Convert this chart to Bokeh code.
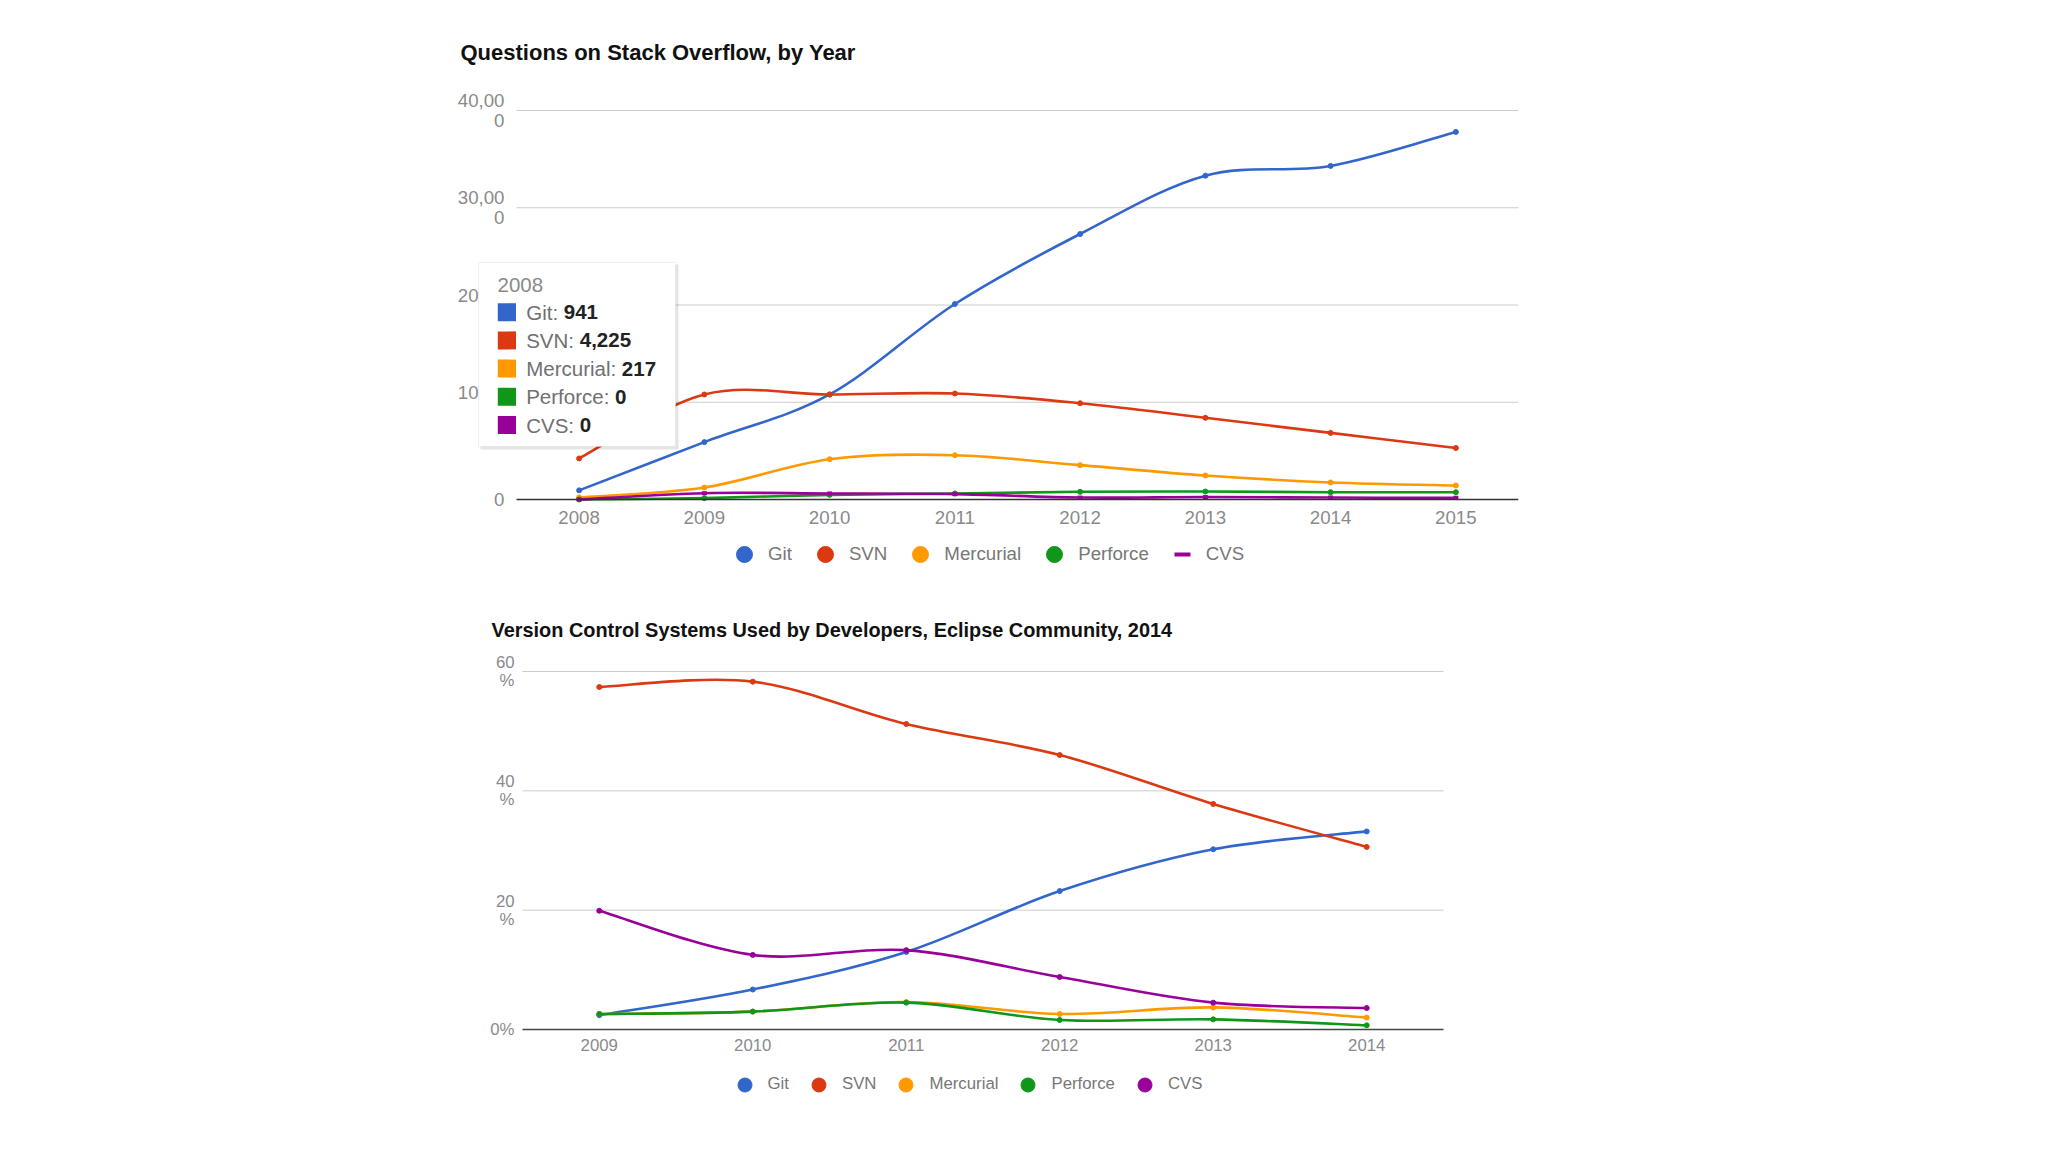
from bokeh.plotting import figure
from bokeh.models import (ColumnDataSource, FixedTicker, Legend, LegendItem,
                          BoxAnnotation, Label)
from bokeh.layouts import column
from bokeh.embed import file_html
from bokeh.resources import INLINE

FONT = "Liberation Sans"

# ---------------- data ----------------
series_names = ["Git", "SVN", "Mercurial", "Perforce", "CVS"]
series_colors = ["#3366cc", "#dc3912", "#ff9900", "#109618", "#990099"]

so_title = "Questions on Stack Overflow, by Year"
so_years = [2008, 2009, 2010, 2011, 2012, 2013, 2014, 2015]
so_git = [941, 5900, 10800, 20100, 27300, 33300, 34300, 37800]
so_svn = [4225, 10800, 10800, 10900, 9900, 8400, 6850, 5300]
so_hg = [217, 1230, 4140, 4550, 3530, 2470, 1750, 1440]
so_p4 = [0, 140, 480, 620, 790, 820, 750, 750]
so_cvs = [0, 650, 620, 550, 200, 250, 200, 170]
so_yticks = [0, 10000, 20000, 30000, 40000]
so_ytick_labels = ["0", "10,00\n0", "20,00\n0", "30,00\n0", "40,00\n0"]

ec_title = "Version Control Systems Used by Developers, Eclipse Community, 2014"
ec_years = [2009, 2010, 2011, 2012, 2013, 2014]
ec_git = [2.4, 6.7, 13.0, 23.2, 30.2, 33.2]
ec_svn = [57.4, 58.3, 51.2, 46.0, 37.8, 30.6]
ec_hg = [2.6, 3.0, 4.6, 2.6, 3.7, 2.0]
ec_p4 = [2.6, 3.0, 4.5, 1.6, 1.7, 0.7]
ec_cvs = [19.9, 12.5, 13.3, 8.8, 4.5, 3.6]
ec_yticks = [0, 20, 40, 60]
ec_ytick_labels = ["0%", "20\n%", "40\n%", "60\n%"]


def smooth_segments(xs, ys, t=1.0 / 6.0):
    """Bezier control points (Catmull-Rom style) through the data points."""
    n = len(xs)
    d = dict(x0=[], y0=[], x1=[], y1=[], cx0=[], cy0=[], cx1=[], cy1=[])
    for i in range(n - 1):
        ip, inn = max(i - 1, 0), min(i + 2, n - 1)
        d["x0"].append(xs[i]); d["y0"].append(ys[i])
        d["x1"].append(xs[i + 1]); d["y1"].append(ys[i + 1])
        d["cx0"].append(xs[i] + (xs[i + 1] - xs[ip]) * t)
        d["cy0"].append(ys[i] + (ys[i + 1] - ys[ip]) * t)
        d["cx1"].append(xs[i + 1] - (xs[inn] - xs[i]) * t)
        d["cy1"].append(ys[i + 1] - (ys[inn] - ys[i]) * t)
    return d


def style_chart(p, xticks, yticks, ylabels, fsize, xstandoff, ystandoff,
                base_color):
    x_lo, x_hi = xticks[0] - 0.5, xticks[-1] + 0.5
    # axes sit at the data edges inside the (extended) frame
    p.xaxis.fixed_location = yticks[0]
    p.xaxis.bounds = (x_lo, x_hi)
    p.yaxis.fixed_location = x_lo
    p.xaxis.ticker = FixedTicker(ticks=xticks)
    p.xaxis.major_label_overrides = {v: str(v) for v in xticks}
    p.yaxis.ticker = FixedTicker(ticks=yticks)
    p.yaxis.major_label_overrides = dict(zip(yticks, ylabels))
    for ax in (p.xaxis, p.yaxis):
        ax.major_tick_line_color = None
        ax.minor_tick_line_color = None
        ax.major_label_text_font = FONT
        ax.major_label_text_font_size = fsize
        ax.major_label_text_color = "#8a8a8a"
    p.yaxis.major_label_text_line_height = 0.95
    p.xaxis.major_label_standoff = xstandoff
    p.xaxis.axis_line_color = base_color
    p.xaxis.axis_line_width = 1.5
    p.yaxis.axis_line_color = None
    p.yaxis.major_label_standoff = ystandoff
    p.xgrid.visible = False
    p.ygrid.visible = False
    p.outline_line_color = None
    p.title.text_font = FONT
    p.title.text_font_style = "bold"
    p.title.text_color = "#111111"
    p.title.align = "left"
    # horizontal grid lines over the category span only
    n = len(yticks) - 1
    p.segment(x0=[x_lo] * n, y0=yticks[1:], x1=[x_hi] * n, y1=yticks[1:],
              line_color="#cccccc", line_width=1)


def draw_series(p, xs, ys, color, marker="circle"):
    src = ColumnDataSource(smooth_segments(xs, ys))
    p.bezier(x0="x0", y0="y0", x1="x1", y1="y1", cx0="cx0", cy0="cy0",
             cx1="cx1", cy1="cy1", source=src, line_color=color,
             line_width=2.6, line_cap="round", line_join="round")
    if marker == "dash":
        return p.scatter(xs, ys, marker="dash", size=5, line_color=color,
                         line_width=4)
    return p.scatter(xs, ys, marker="circle", size=5, fill_color=color,
                     line_color=color, line_width=1)


# both figures share the same frame borders (column aligns them)
FIG_W, BORDER_L, BORDER_R = 1560, 440, 42

# ---------------- chart 1 ----------------
PXY1 = 125.25            # px per year
PXV1 = 389.0 / 40000     # px per question
p1 = figure(width=FIG_W, height=606,
            x_range=(so_years[0] - 0.5 - 76 / PXY1, so_years[-1] + 0.5),
            y_range=(so_yticks[0] - 79 / PXV1, so_yticks[-1] + 40 / PXV1),
            output_backend="svg", toolbar_location=None,
            min_border_left=BORDER_L, min_border_right=BORDER_R,
            min_border_top=70, min_border_bottom=28)
p1.title.text = so_title
p1.title.text_font_size = "22px"
p1.title.offset = 20
p1.title.standoff = 12
style_chart(p1, so_years, so_yticks, so_ytick_labels, "18.7px", 5, 6, "#333333")

so_vals = [so_git, so_svn, so_hg, so_p4, so_cvs]
items1 = []
for name, col, vals in zip(series_names, series_colors, so_vals):
    r = draw_series(p1, so_years, vals, col, "dash" if name == "CVS" else "circle")
    items1.append(LegendItem(label=name, renderers=[r]))

leg1 = Legend(items=items1, orientation="horizontal", location=(284, 4),
              glyph_width=40, glyph_height=40, label_standoff=4, spacing=13,
              padding=0, margin=0, background_fill_alpha=0, border_line_color=None,
              label_text_font=FONT, label_text_font_size="18.7px",
              label_text_color="#777777", label_height=40)
p1.add_layout(leg1)

# tooltip-like box for 2008
TIP_FS = 20.5
char_w = {" ": 278, ":": 278, "G": 778, "i": 222, "t": 278, "S": 667, "V": 667,
          "N": 722, "M": 833, "e": 556, "r": 333, "c": 500, "u": 556, "a": 556,
          "l": 222, "P": 667, "f": 278, "o": 556, "C": 722}


def text_w(s, fs):
    return sum(char_w.get(ch, 556) for ch in s) * fs / 1000.0


def sbox(l, r, t, b, **kw):
    return BoxAnnotation(left=l, right=r, top=t, bottom=b,
                         left_units="screen", right_units="screen",
                         top_units="screen", bottom_units="screen",
                         level="overlay", **kw)


p1.add_layout(sbox(40, 238, 314, 129, fill_color="black",
                   fill_alpha=0.10, line_color=None))
p1.add_layout(sbox(38, 235, 316, 132, fill_color="white",
                   fill_alpha=1.0, line_color="#cccccc", line_width=1))
p1.add_layout(Label(x=57, y=294, x_units="screen", y_units="screen",
                    text=str(so_years[0]), text_font=FONT,
                    text_font_size=f"{TIP_FS}px", text_color="#8a8a8a",
                    text_baseline="middle", level="overlay"))
for k, (name, col, vals) in enumerate(zip(series_names, series_colors, so_vals)):
    yy = 266.3 - 28.2 * k
    p1.add_layout(sbox(57.3, 75.5, yy + 9, yy - 9, fill_color=col,
                       fill_alpha=1.0, line_color=None))
    lab = f"{name}: "
    p1.add_layout(Label(x=85.7, y=yy, x_units="screen", y_units="screen",
                        text=lab.strip(), text_font=FONT,
                        text_font_size=f"{TIP_FS}px", text_color="#707070",
                        text_baseline="middle", level="overlay"))
    p1.add_layout(Label(x=85.7 + text_w(lab, TIP_FS), y=yy, x_units="screen",
                        y_units="screen", text=f"{vals[0]:,}", text_font=FONT,
                        text_font_size=f"{TIP_FS}px", text_font_style="bold",
                        text_color="#222222", text_baseline="middle",
                        level="overlay"))

# ---------------- chart 2 ----------------
PXY2 = 153.4
PXV2 = 358.0 / 60
p2 = figure(width=FIG_W, height=530,
            x_range=(ec_years[0] - 0.5 - 82 / PXY2, ec_years[-1] + 0.5 + 75 / PXY2),
            y_range=(ec_yticks[0] - 77 / PXV2, ec_yticks[-1] + 25 / PXV2),
            output_backend="svg", toolbar_location=None,
            min_border_left=BORDER_L, min_border_right=BORDER_R,
            min_border_top=40, min_border_bottom=30)
p2.title.text = ec_title
p2.title.text_font_size = "19.9px"
p2.title.offset = 51
p2.title.standoff = 12
style_chart(p2, ec_years, ec_yticks, ec_ytick_labels, "16.8px", 3, 2, "#444444")

ec_vals = [ec_git, ec_svn, ec_hg, ec_p4, ec_cvs]
items2 = []
for name, col, vals in zip(series_names, series_colors, ec_vals):
    r = draw_series(p2, ec_years, vals, col, "circle")
    items2.append(LegendItem(label=name, renderers=[r]))

leg2 = Legend(items=items2, orientation="horizontal", location=(286.5, 4.5),
              glyph_width=35, glyph_height=35, label_standoff=6, spacing=12,
              padding=0, margin=0, background_fill_alpha=0, border_line_color=None,
              label_text_font=FONT, label_text_font_size="16.8px",
              label_text_color="#777777", label_height=35)
p2.add_layout(leg2)

layout = column(p1, p2)
open("out.html", "w").write(file_html(layout, INLINE))
